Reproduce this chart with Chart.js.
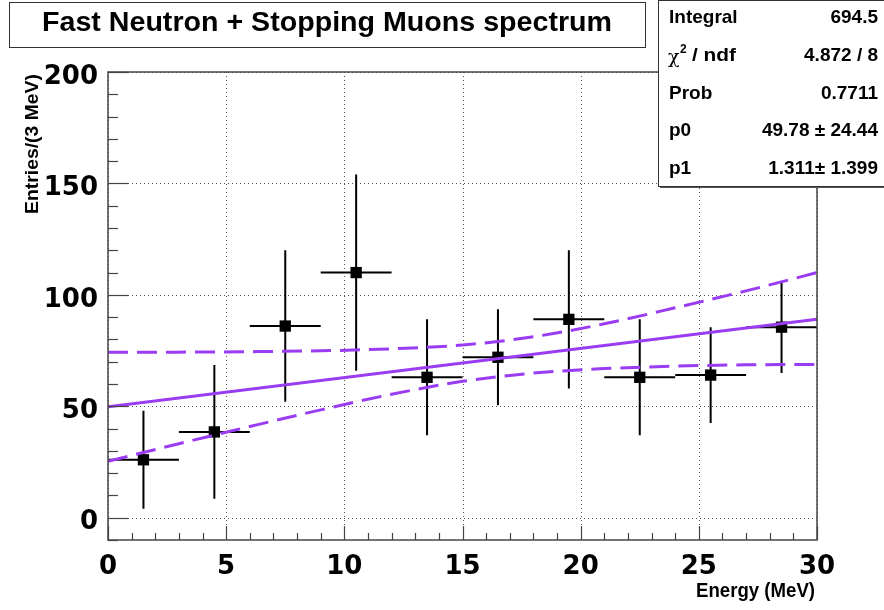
<!DOCTYPE html>
<html>
<head>
<meta charset="utf-8">
<script src="https://cdn.jsdelivr.net/npm/chart.js@4/dist/chart.umd.min.js"></script>
<style>
  html, body { margin: 0; padding: 0; background: #fff; }
  canvas { display: block; }
</style>
</head>
<body>
<canvas id="spectrum" width="884" height="610"></canvas>
<script>
// histogram bins (3 MeV wide)
const binCenters = [1.5, 4.5, 7.5, 10.5, 13.5, 16.5, 19.5, 22.5, 25.5, 28.5];
const counts = [26, 38.5, 86, 110, 63, 72, 89, 63, 64, 85.5];
const countErrors = [22, 30, 34, 44, 26, 21.5, 31, 26, 21.5, 20.6];
const binWidth = 3;

// linear fit and its error band
const fitX = [0, 30];
const fitY = [49.8, 89.1];
const bandX = [0, 3, 6, 9, 12, 15, 18, 21, 24, 27, 30];
const bandUpper = [74.2, 74.3, 74.5, 74.9, 75.8, 77.5, 81.2, 87.0, 94.2, 101.8, 110.0];
const bandLower = [25.3, 33.2, 40.9, 48.4, 55.4, 61.2, 64.9, 66.9, 68.0, 68.6, 68.8];

const xTicks = [0, 5, 10, 15, 20, 25, 30];
const yTicks = [0, 50, 100, 150, 200];

const statsRows = [
    ["Integral", "694.5"],
    ["chi2", "4.872 / 8"],
    ["Prob", "0.7711"],
    ["p0", "49.78 \u00b1 24.44"],
    ["p1", "1.311\u00b1 1.399"]
];

const PURPLE = "#9a3cf2";
const FONT = "'Liberation Sans', Arial, sans-serif";
const TICKFONT = "'DejaVu Sans', sans-serif";

const toPts = (xs, ys) => xs.map((x, i) => ({ x: x, y: ys[i] }));

// draw text squeezed to a given width (ROOT helvetica looks narrower)
function fitText(ctx, text, x, y, font, width, align) {
    ctx.save();
    ctx.font = font;
    const w = ctx.measureText(text).width;
    const s = width ? width / w : 1;
    ctx.translate(x, y);
    ctx.scale(s, 1);
    ctx.textAlign = align || "left";
    ctx.fillText(text, 0, 0);
    ctx.restore();
}

const rootPlugin = {
    id: "rootStyle",
    beforeDraw(chart) {
        const ctx = chart.ctx;
        ctx.save();
        ctx.fillStyle = "#fff";
        ctx.fillRect(0, 0, chart.width, chart.height);
        ctx.restore();
    },
    beforeDatasetsDraw(chart) {
        const { ctx, chartArea: a, scales: { x, y } } = chart;
        ctx.save();
        // dotted grid
        ctx.strokeStyle = "#555";
        ctx.lineWidth = 1;
        ctx.setLineDash([1, 3]);
        xTicks.forEach(v => {
            const px = Math.round(x.getPixelForValue(v)) + 0.5;
            ctx.beginPath(); ctx.moveTo(px, a.top); ctx.lineTo(px, a.bottom); ctx.stroke();
        });
        yTicks.forEach(v => {
            const py = Math.round(y.getPixelForValue(v)) + 0.5;
            ctx.beginPath(); ctx.moveTo(a.left, py); ctx.lineTo(a.right, py); ctx.stroke();
        });
        ctx.setLineDash([]);

        // error bars
        ctx.strokeStyle = "#000";
        ctx.lineWidth = 2;
        binCenters.forEach((c, i) => {
            const px = x.getPixelForValue(c);
            const py = y.getPixelForValue(counts[i]);
            ctx.beginPath();
            ctx.moveTo(x.getPixelForValue(c - binWidth / 2), py);
            ctx.lineTo(x.getPixelForValue(c + binWidth / 2), py);
            ctx.moveTo(px, y.getPixelForValue(counts[i] + countErrors[i]));
            ctx.lineTo(px, y.getPixelForValue(counts[i] - countErrors[i]));
            ctx.stroke();
        });
        ctx.restore();
    },
    afterDraw(chart) {
        const { ctx, chartArea: a, scales: { x, y } } = chart;
        ctx.save();

        // frame
        ctx.strokeStyle = "#444";
        ctx.lineWidth = 1.5;
        ctx.strokeRect(a.left, a.top, a.right - a.left, a.bottom - a.top);

        // tick marks
        ctx.lineWidth = 1.2;
        for (let v = -10; v <= 200; v += 10) {
            const py = Math.round(y.getPixelForValue(v)) + 0.5;
            const len = v % 50 === 0 ? 20 : 10;
            ctx.beginPath(); ctx.moveTo(a.left, py); ctx.lineTo(a.left + len, py); ctx.stroke();
        }
        for (let v = 0; v <= 30; v += 1) {
            const px = Math.round(x.getPixelForValue(v)) + 0.5;
            const len = v % 5 === 0 ? 14 : 7;
            ctx.beginPath(); ctx.moveTo(px, a.bottom); ctx.lineTo(px, a.bottom - len); ctx.stroke();
        }

        ctx.fillStyle = "#000";
        ctx.textBaseline = "middle";

        // axis titles
        fitText(ctx, "Energy (MeV)", a.right - 2, 591, "bold 20px " + FONT, 119, "right");
        ctx.save();
        ctx.translate(33, a.top + 2);
        ctx.rotate(-Math.PI / 2);
        fitText(ctx, "Entries/(3 MeV)", 0, 0, "bold 19px " + FONT, 140, "right");
        ctx.restore();

        // title box
        ctx.fillStyle = "#fff";
        ctx.fillRect(9, 2, 636, 45);
        ctx.strokeStyle = "#333";
        ctx.lineWidth = 1;
        ctx.strokeRect(9.5, 2.5, 636, 45);
        ctx.fillStyle = "#000";
        fitText(ctx, "Fast Neutron + Stopping Muons spectrum", 327, 24, "bold 27px " + FONT, 570, "center");

        // stats box
        ctx.fillStyle = "#555";
        ctx.fillRect(660, 186, 224, 2);
        ctx.fillStyle = "#fff";
        ctx.fillRect(658, 0, 226, 186);
        ctx.strokeStyle = "#333";
        ctx.strokeRect(658.5, 0.5, 230, 186);
        ctx.fillStyle = "#000";
        const rowY = [18, 56, 94, 131, 169];
        const f = "bold 19px " + FONT;
        statsRows.forEach((r, i) => {
            if (r[0] === "chi2") {
                ctx.font = "19px 'DejaVu Serif', serif";
                ctx.textAlign = "left";
                ctx.fillText("\u03c7", 668, rowY[i] + 2);
                ctx.font = "bold 12px " + FONT;
                ctx.fillText("2", 680, rowY[i] - 6);
                fitText(ctx, "/ ndf", 692, rowY[i], f, 44, "left");
            } else {
                ctx.font = f;
                ctx.textAlign = "left";
                ctx.fillText(r[0], 669, rowY[i]);
            }
            ctx.font = f;
            ctx.textAlign = "right";
            ctx.fillText(r[1], 878, rowY[i]);
        });
        ctx.restore();
    }
};

new Chart(document.getElementById("spectrum"), {
    type: "scatter",
    data: {
        datasets: [
            {
                label: "data",
                data: toPts(binCenters, counts),
                pointStyle: "rect",
                pointRadius: 8,
                backgroundColor: "#000",
                borderColor: "#000",
                borderWidth: 0,
                order: 2
            },
            {
                label: "fit",
                type: "line",
                data: toPts(fitX, fitY),
                borderColor: PURPLE,
                borderWidth: 3,
                pointRadius: 0,
                fill: false,
                order: 1
            },
            {
                label: "upper",
                type: "line",
                data: toPts(bandX, bandUpper),
                borderColor: PURPLE,
                borderWidth: 3,
                borderDash: [20, 9],
                pointRadius: 0,
                cubicInterpolationMode: "monotone",
                fill: false,
                order: 1
            },
            {
                label: "lower",
                type: "line",
                data: toPts(bandX, bandLower),
                borderColor: PURPLE,
                borderWidth: 3,
                borderDash: [20, 9],
                pointRadius: 0,
                cubicInterpolationMode: "monotone",
                fill: false,
                order: 1
            }
        ]
    },
    options: {
        responsive: false,
        animation: false,
        devicePixelRatio: 1,
        layout: { padding: { left: 8, top: 72, right: 67, bottom: 0 } },
        plugins: {
            legend: { display: false },
            tooltip: { enabled: false },
            title: { display: false }
        },
        scales: {
            x: {
                type: "linear",
                min: 0,
                max: 30,
                afterBuildTicks: s => { s.ticks = xTicks.map(v => ({ value: v })); },
                afterFit: s => { s.height = 70; },
                grid: { display: false, drawTicks: false },
                border: { display: false },
                ticks: {
                    autoSkip: false,
                    maxRotation: 0,
                    padding: 12,
                    color: "#000",
                    font: { family: TICKFONT, size: 26, weight: "bold" }
                }
            },
            y: {
                type: "linear",
                min: -10,
                max: 200,
                afterBuildTicks: s => { s.ticks = yTicks.map(v => ({ value: v })); },
                afterFit: s => { s.width = 100; },
                grid: { display: false, drawTicks: false },
                border: { display: false },
                ticks: {
                    autoSkip: false,
                    padding: 10,
                    labelOffset: 5,
                    color: "#000",
                    font: { family: TICKFONT, size: 26, weight: "bold" }
                }
            }
        }
    },
    plugins: [rootPlugin]
});
</script>
</body>
</html>
